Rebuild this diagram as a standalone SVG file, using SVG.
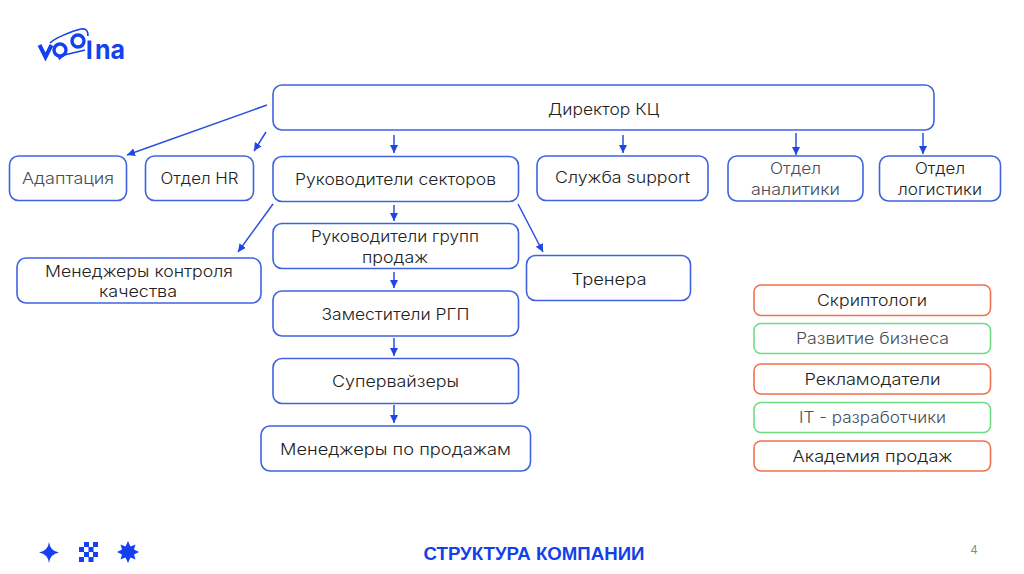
<svg xmlns="http://www.w3.org/2000/svg" width="1024" height="574" viewBox="0 0 1024 574">
<style>
text{font-family:"Inter","Noto Sans","DejaVu Sans",sans-serif;font-size:15.5px;font-weight:300;fill:#222222;text-anchor:middle}
.b{fill:#fff;stroke:#3f63e0;stroke-width:1.6}
.o{fill:#fff;stroke:#f0714e;stroke-width:1.6}
.g{fill:#fff;stroke:#6fdc82;stroke-width:1.6}
text.m{fill:#484d59}
.c line{stroke:#2a50df;stroke-width:1.5;marker-end:url(#a)}
.i{fill:#1440f0}
.l{fill:none;stroke:#1440f0}
</style>
<defs><marker id="a" markerUnits="userSpaceOnUse" markerWidth="10" markerHeight="10" refX="8" refY="4" orient="auto"><path d="M0 0L8 4L0 8Z" fill="#1f45e6"/></marker></defs>
<rect width="1024" height="574" fill="#fff"/>
<g id="logo">
<path class="l" d="M39.500 45L45.500 57L51.500 45" stroke-width="4"/>
<circle class="l" cx="60" cy="50" r="6" stroke-width="3.400"/>
<circle class="l" cx="78" cy="41" r="6" stroke-width="3.400"/>
<path class="l" d="M50 43C55 38 72 31 81 29C87 28 88 32 88 36M85 50C78 52 68 54 64 55L59.500 59L58 55" stroke-width="1.600"/>
<rect x="87.500" y="40.500" width="3.800" height="18.500" class="i"/>
<text x="95" y="59" style="font-family:'Inter','Liberation Sans',sans-serif;font-size:26px;font-weight:700;fill:#1440f0;text-anchor:start" textLength="30" lengthAdjust="spacingAndGlyphs">na</text>
</g>
<g class="c" id="connectors">
<line x1="267" y1="105" x2="127" y2="155"/>
<line x1="266" y1="132" x2="254" y2="151"/>
<line x1="394" y1="135" x2="394" y2="153"/>
<line x1="623" y1="135" x2="623" y2="153"/>
<line x1="796" y1="133" x2="796" y2="155"/>
<line x1="923" y1="133" x2="923" y2="154"/>
<line x1="273" y1="204" x2="238" y2="252"/>
<line x1="394" y1="205" x2="394" y2="221"/>
<line x1="518" y1="204" x2="543" y2="252"/>
<line x1="394" y1="272" x2="394" y2="288"/>
<line x1="394" y1="338" x2="394" y2="356"/>
<line x1="394" y1="405" x2="394" y2="423"/>
</g>
<g id="n1"><rect class="b" x="273" y="85" width="661" height="45" rx="9"/><text x="603.500" y="115" textLength="111" lengthAdjust="spacingAndGlyphs">Директор КЦ</text></g>
<g id="n2"><rect class="b" x="9.500" y="156" width="117" height="44.500" rx="9"/><text x="68" y="184" textLength="92" lengthAdjust="spacingAndGlyphs" class="m">Адаптация</text></g>
<g id="n3"><rect class="b" x="145.500" y="156" width="108" height="44.500" rx="9"/><text x="199.500" y="184" textLength="78" lengthAdjust="spacingAndGlyphs">Отдел HR</text></g>
<g id="n4"><rect class="b" x="273" y="156.500" width="245.500" height="45" rx="9"/><text x="395.500" y="185" textLength="201" lengthAdjust="spacingAndGlyphs">Руководители секторов</text></g>
<g id="n5"><rect class="b" x="537" y="156" width="171" height="44.500" rx="9"/><text x="622.500" y="183" textLength="135" lengthAdjust="spacingAndGlyphs">Служба support</text></g>
<g id="n6"><rect class="b" x="728" y="156" width="135" height="45" rx="9"/><text x="795.500" y="174" textLength="51" lengthAdjust="spacingAndGlyphs" class="m">Отдел</text><text x="795.500" y="195" textLength="89" lengthAdjust="spacingAndGlyphs" class="m">аналитики</text></g>
<g id="n7"><rect class="b" x="879.500" y="156" width="121" height="45" rx="9"/><text x="940" y="174" textLength="50" lengthAdjust="spacingAndGlyphs">Отдел</text><text x="940" y="195" textLength="84" lengthAdjust="spacingAndGlyphs">логистики</text></g>
<g id="n8"><rect class="b" x="273" y="223.500" width="245.500" height="45" rx="9"/><text x="395" y="242" textLength="168" lengthAdjust="spacingAndGlyphs">Руководители групп</text><text x="395" y="263" textLength="66" lengthAdjust="spacingAndGlyphs">продаж</text></g>
<g id="n9"><rect class="b" x="17" y="258" width="244" height="45" rx="9"/><text x="139" y="277" textLength="188" lengthAdjust="spacingAndGlyphs">Менеджеры контроля</text><text x="138" y="297" textLength="78" lengthAdjust="spacingAndGlyphs">качества</text></g>
<g id="n10"><rect class="b" x="526.500" y="255.500" width="164" height="45" rx="9"/><text x="609" y="285" textLength="75" lengthAdjust="spacingAndGlyphs">Тренера</text></g>
<g id="n11"><rect class="b" x="273" y="291" width="245.500" height="45" rx="9"/><text x="395.500" y="320" textLength="148" lengthAdjust="spacingAndGlyphs">Заместители РГП</text></g>
<g id="n12"><rect class="b" x="273" y="358.500" width="245.500" height="45" rx="9"/><text x="395.500" y="387" textLength="127" lengthAdjust="spacingAndGlyphs">Супервайзеры</text></g>
<g id="n13"><rect class="b" x="261" y="426" width="269.500" height="45" rx="9"/><text x="395.500" y="455" textLength="231" lengthAdjust="spacingAndGlyphs">Менеджеры по продажам</text></g>
<g id="n14"><rect class="o" x="754" y="285" width="236.500" height="30.500" rx="7"/><text x="872" y="306" textLength="110" lengthAdjust="spacingAndGlyphs">Скриптологи</text></g>
<g id="n15"><rect class="g" x="754" y="323.500" width="236.500" height="30" rx="7"/><text x="872.500" y="344" textLength="153" lengthAdjust="spacingAndGlyphs" class="m">Развитие бизнеса</text></g>
<g id="n16"><rect class="o" x="754" y="364" width="236.500" height="30" rx="7"/><text x="872.500" y="385" textLength="136" lengthAdjust="spacingAndGlyphs">Рекламодатели</text></g>
<g id="n17"><rect class="g" x="754" y="402.500" width="236.500" height="30" rx="7"/><text x="872.500" y="423" textLength="147" lengthAdjust="spacingAndGlyphs" class="m">IT - разработчики</text></g>
<g id="n18"><rect class="o" x="754" y="441" width="236.500" height="30" rx="7"/><text x="872.500" y="462" textLength="160" lengthAdjust="spacingAndGlyphs">Академия продаж</text></g>
<g id="footer">
<path class="i" d="M49 542Q50 551 59 552.500Q50 554 49 563Q48 554 39 552.500Q48 551 49 542Z"/>
<g class="i"><rect x="84" y="542" width="5" height="5"/><rect x="93" y="542" width="5" height="5"/><rect x="79" y="547" width="5" height="5"/><rect x="88.500" y="547" width="5" height="5"/><rect x="79" y="557" width="5" height="5"/><rect x="88.500" y="557" width="5" height="5"/><rect x="84" y="552" width="5" height="5"/><rect x="93" y="552" width="5" height="5"/></g>
<path class="i" d="M128 541L130.500 546.500L135.500 544.500L134 549.500L139 552L134 554.500L135.500 559.500L130.500 557.500L128 563L125.500 557.500L120.500 559.500L122 554.500L117 552L122 549.500L120.500 544.500L125.500 546.500Z"/>
<text x="534" y="560" style="font-family:'Liberation Sans',sans-serif;font-size:17.500px;font-weight:700;fill:#1440e8" textLength="221" lengthAdjust="spacingAndGlyphs">СТРУКТУРА КОМПАНИИ</text>
<text x="974" y="554" style="font-family:'Liberation Sans',sans-serif;font-size:12px;font-weight:400;fill:#8a8a8a">4</text>
</g>
</svg>
